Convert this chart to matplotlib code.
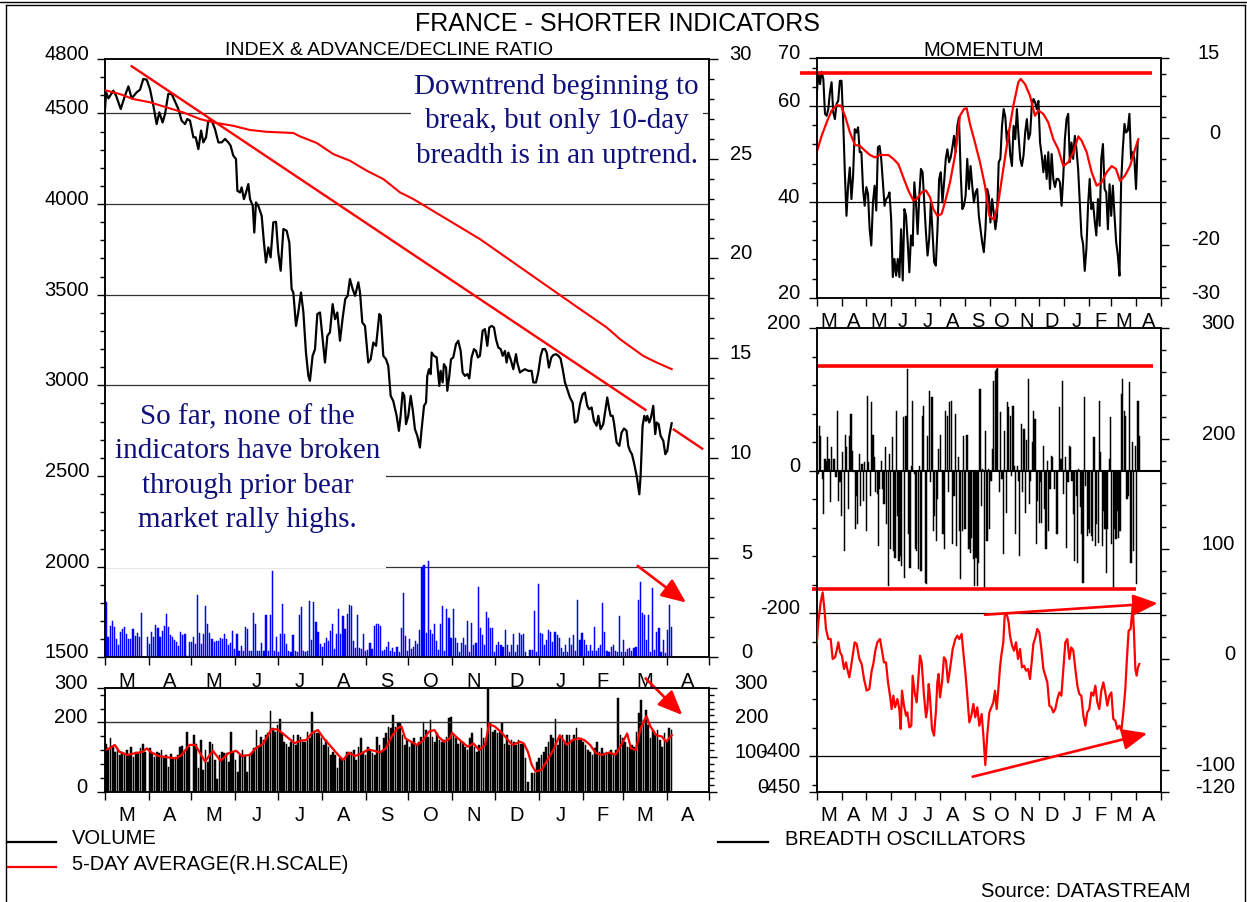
import numpy as np
import matplotlib.pyplot as plt
import matplotlib.transforms as mtransforms
from matplotlib.patches import Rectangle
from matplotlib.lines import Line2D

W, H = 1247, 903
plt.rcParams['font.family'] = ['Liberation Sans', 'DejaVu Sans']

# ── 시간축 (3월 ~ 다음해 4월, 일 단위) ─────────────────────
months = ['M', 'A', 'M', 'J', 'J', 'A', 'S', 'O', 'N', 'D', 'J', 'F', 'M', 'A']
month_len = [31, 30, 31, 30, 31, 31, 30, 31, 30, 31, 31, 28, 31, 30]
edges = np.concatenate([[0], np.cumsum(month_len)])
mids = (edges[:-1] + edges[1:]) / 2

# ── 지수 ────────────────────────────────────────────────
index_day = [0, 1, 2.6, 6.1, 8, 11.3, 14.3, 16.7, 19, 22.5,
             24.9, 27.2, 29.6, 31.9, 34.3, 36.6, 38.5, 40.8, 42.5, 44.8,
             47.2, 48.8, 51.9, 54.2, 56.6, 58.2, 60.1, 62.5, 64.1, 66,
             67.9, 69.5, 71.4, 73, 75.4, 77.7, 80.1, 82.4, 84.8, 87.1,
             88.7, 90.6, 92.5, 93.5, 95.3, 96.5, 98.1, 99.6, 101.2, 102.4,
             104.3, 105.4, 106.6, 108.2, 110.6, 112.2, 113.6, 115.3, 116.9, 118.8,
             120.7, 122.3, 124, 125.9, 128.2, 130.1, 131.7, 132.9, 134.8, 136.4,
             138.3, 140, 141.8, 143.5, 144.6, 146.5, 148.2, 149.8, 151.7, 153.6,
             155.2, 156.9, 158.7, 160.6, 162.3, 163.9, 165.8, 167.7, 169.5, 171.2,
             172.8, 174.7, 176.4, 178.7, 179.9, 181.5, 183.4, 185.7, 187.4, 189.3,
             191.2, 193.5, 194.5, 196.3, 198.2, 199.8, 201.5,
             203.3, 205.7, 207.3, 208.5, 209.9, 211.1, 212.3, 213.9, 215.6, 217.0,
             218.6, 220.3, 222.1, 223.3, 225.0, 226.4, 227.3, 228.5, 229.7, 230.4,
             232.0, 233.9, 235.8, 236.7, 238.1, 239.0, 240.5, 241.4, 242.8, 244.0,
             245.6, 247.5, 249.1, 250.8, 252.2, 253.8, 255.5, 256.9, 258.5, 260.2,
             261.6, 263.0, 264.4, 266.3, 267.9, 269.6, 271.0, 272.6, 274.3, 275.7,
             277.3, 279.0, 280.4, 282.0, 283.2, 284.4, 286.0, 287.9, 289.8, 290.7,
             292.6, 294.2, 296.1, 298.5, 300.8, 302.0, 303.9, 305.5, 307.2, 308.6,
             310.2, 311.4, 313.0, 314.7, 316.1, 318.0, 319.6, 321.2, 322.7, 324.3,
             325.9, 327.8, 329.7, 331.3, 333.0, 334.9, 336.8, 338.4, 340.0, 341.4,
             343.1, 344.7, 346.6, 347.8, 349.4, 351.3, 353.2, 354.1, 355.5, 356.5,
             357.9, 358.8, 360.7, 362.6, 364.2, 365.9, 367.7, 368.9, 370.1, 371.5,
             372.9, 374.8, 376.7, 377.6, 379.0, 380.2, 381.4, 382.3, 383.7, 384.9,
             386.5, 387.9, 388.9, 390.3, 391.7, 393.6, 395.0, 396.4, 397.8, 399.5]
index_val = [4496, 4616, 4583, 4625, 4598, 4524, 4598, 4649, 4583, 4616,
             4631, 4690, 4686, 4634, 4542, 4441, 4506, 4450, 4496, 4607,
             4607, 4579, 4524, 4460, 4441, 4469, 4460, 4368, 4368, 4303,
             4405, 4340, 4368, 4460, 4460, 4414, 4340, 4340, 4359, 4340,
             4322, 4267, 4248, 4073, 4064, 4092, 4027, 4064, 4110, 4027,
             3991, 3843, 4009, 3991, 3935, 3788, 3678, 3761, 3706, 3899,
             3902, 3733, 3632, 3862, 3853, 3788, 3531, 3512, 3328, 3402,
             3512, 3402, 3181, 3052, 3025, 3163, 3200, 3393, 3402, 3255,
             3126, 3273, 3292, 3448, 3365, 3402, 3246, 3374, 3476, 3494,
             3586, 3531, 3494, 3568, 3512, 3347, 3328, 3126, 3144, 3236,
             3218, 3393, 3384, 3163, 3144, 3108, 2942,
             2914, 2832, 2749, 2832, 2960, 2942, 2786, 2832, 2942, 2868,
             2758, 2721, 2657, 2758, 2887, 2905, 3052, 3089, 3062, 3181,
             3163, 3154, 2997, 3080, 3016, 3117, 3098, 2970, 3052, 3144,
             3154, 3227, 3246, 3190, 3071, 3052, 3062, 3038, 3154, 3200,
             3190, 3154, 3163, 3301, 3310, 3218, 3319, 3328, 3319, 3255,
             3209, 3200, 3163, 3190, 3126, 3181, 3144, 3089, 3172, 3126,
             3071, 3080, 3089, 3080, 3080, 3016, 3016, 3071, 3163, 3200,
             3200, 3181, 3098, 3154, 3167, 3172, 3163, 3148, 3089, 3016,
             2979, 2933, 2905, 2795, 2804, 2896, 2951, 2960, 2887, 2868,
             2878, 2804, 2777, 2832, 2758, 2786, 2887, 2933, 2868, 2832,
             2832, 2795, 2685, 2666, 2740, 2762, 2749, 2666, 2639, 2620,
             2574, 2501, 2399, 2501, 2777, 2832, 2804, 2832, 2795, 2822,
             2887, 2731, 2795, 2786, 2721, 2694, 2620, 2639, 2721, 2791]

# 하락 추세선 (지수 단위)
trend_day = [19, 381]
trend_val = [4760, 2865]
trend2_day = [401, 421]
trend2_val = [2756, 2651]

# 상승/하락 비율 (우측 눈금)
ad_day = [0, 10.8, 20.2, 31.9, 43.7, 55.4, 67.1, 76.5, 90.6, 102.4,
          114.1, 132.9, 137.6, 149.4, 161.1, 172.8, 184.6, 196.3, 208.1, 217.4,
          241.0, 264.4, 287.9, 311.4, 334.9, 353.7, 363.1, 379.5, 388.9, 399.5]
ad_val = [28.44, 28.24, 27.99, 27.83, 27.57, 27.32, 26.99, 26.82, 26.65, 26.44,
          26.35, 26.29, 26.12, 25.79, 25.23, 24.90, 24.40, 23.98, 23.31, 22.98,
          21.97, 20.97, 19.80, 18.63, 17.46, 16.54, 15.95, 15.11, 14.78, 14.45]

# 파란 막대 (우측 눈금)
blue_bars = [2.79, 1.0, 1.59, 1.84, 1.5, 0.92, 0.62, 1.25, 1.42, 1.5,
             1.17, 0.92, 0.92, 1.42, 1.09, 1.22, 1.0, 2.22, 0, 0,
             1.0, 0.67, 1.29, 1.0, 1.62, 1.46, 1.0, 1.34, 1.59, 2.17,
             1.5, 1.12, 1.0, 0.89, 0.75, 0.59, 1.25, 1.12, 1.15, 0.08,
             0.75, 0.75, 1.0, 0.67, 3.14, 1.22, 0.67, 1.17, 2.56, 1.67,
             1.22, 0.92, 0.75, 0.84, 0.84, 0.95, 0.92, 1.17, 0.92, 0.62,
             0.72, 1.34, 0.42, 1.17, 0.33, 0.59, 0.33, 1.5, 1.42, 0.33,
             0.33, 2.22, 1.67, 0.33, 0.33, 0.72, 0.33, 2.12, 0.33, 2.12,
             4.35, 0.33, 1.0, 0.28, 1.17, 2.68, 1.17, 0.67, 0.33, 0.28,
             1.12, 0.33, 0.28, 2.12, 2.51, 0.33, 0.28, 0.33, 2.84, 0.89,
             2.76, 1.76, 1.29, 0.67, 0.5, 0.72, 0.95, 0.84, 1.34, 1.67,
             0.42, 1.17, 2.43, 1.17, 2.09, 1.42, 2.17, 2.63, 2.59, 0.84,
             0.45, 2.12, 0.45, 0.42, 1.17, 0.33, 0.38, 0.72, 0.42, 1.59,
             1.67, 1.67, 1.59, 0.33, 0.38, 0.5, 0.75, 0.33, 0.45, 0.28,
             0.5, 0.28, 1.46, 3.23, 1.09, 0.33, 0.92, 0.42, 0.5, 0.8,
             0.67,
             1.37, 4.55, 4.63, 1.2, 4.83, 1.37, 1.17, 1.67, 0.84, 0.37,
             1.67, 2.58, 0.33, 2.41, 1.96, 0.95, 2.41, 0.95, 0.7, 0.28,
             0.7, 0.95, 0.62, 1.84, 0.28, 1.71, 0.62, 0.7, 3.55, 1.46,
             1.12, 0.62, 2.29, 1.96, 1.46, 1.46, 0.28, 0.62, 0.79, 0.62,
             0.54, 1.37, 0.62, 0.28, 0.62, 1.17, 0.28, 0.62, 1.2, 1.12,
             1.17, 0.28, 0, 0.37, 0.37, 2.34, 0.28, 3.68, 1.2, 1.17,
             0.62, 0.87, 1.37, 1.29, 0.79, 1.29, 1.12, 0.95, 0.45, 0.28,
             0.62, 0.28, 0.95, 0.62, 1.12, 0.33, 2.88, 0.87, 1.24, 0.87,
             0.62, 0.33, 0.62, 0.33, 1.54, 0.33, 0.45, 0.62, 2.74, 1.29,
             0.33, 0.28, 0.54, 0.62, 0.33, 0.28, 2.07, 0.28, 0.87, 0.28,
             0.4, 0.45, 0.33, 0.45, 0.54, 2.88, 3.8, 2.21, 2.12, 0.87,
             2.12, 0.28, 3.46, 0.37, 1.29, 1.46, 0.28, 0.87, 0.2, 1.37,
             2.63, 1.54]

# ── 거래량 ──────────────────────────────────────────────
volume = [139, 125, 154, 130, 115, 125, 106, 115, 111, 120, 106, 130, 101, 115, 111, 125, 139, 115, 0,
          125, 111, 101, 115, 111, 120, 96, 106, 72, 109, 96, 101, 106, 130, 132, 115, 173, 130, 0,
          163, 139, 67, 149, 63, 120, 87, 144, 139, 91, 38, 106, 115, 111, 111, 87, 173, 115, 91, 58,
          106, 120, 106, 58, 106, 111, 125, 178, 130, 159, 149, 163, 168, 234, 183, 173, 192,
          211, 168, 144, 139, 130, 144, 163, 135, 163, 159, 144, 144, 173, 154, 231, 173, 168, 168, 154,
          135, 149, 130, 106, 115, 106, 67, 96, 91, 96, 115, 111, 115, 120, 91, 130, 154, 115, 106,
          130, 120, 111, 106, 159, 135, 115, 154, 168, 187, 183, 221, 187, 197, 199, 163, 135, 149,
          130, 144, 154, 135, 144, 159, 202, 178, 159, 207, 159, 144, 168, 149, 144, 149, 159, 214, 216,
          163, 154, 139, 144, 144, 130, 120, 154, 168, 130, 115, 135, 183, 154, 154, 298, 197, 173,
          178, 168, 173, 197, 139, 163, 135, 149, 144, 135, 149, 139, 139, 96, 29, 0, 53, 53, 87,
          96, 106, 115, 130, 144, 163, 154, 209, 135, 154, 163, 144, 163, 163, 149, 163, 183, 149, 154, 144,
          135, 120, 115, 106, 125, 144, 115, 125, 111, 115, 111, 120, 111, 120, 269, 163, 154,
          144, 130, 130, 135, 130, 173, 226, 264, 207, 236, 192, 154, 178, 163, 178, 149, 130, 168, 144, 183, 178]

vol_avg_day = [0, 3.5, 7.1, 10.4, 15.9, 21.4, 26.8, 29.6, 32.3, 37.8,
               44.7, 50.1, 54.2, 59.7, 63.8, 70.7, 76.2, 81.6, 87.1, 92.6,
               96.7, 102.2, 106.3, 111.8, 117.3, 121.4, 125.5, 129.6, 133.7, 137.8,
               142.0, 146.1, 150.2, 154.3, 158.4, 163.9, 168.0, 172.1, 176.2, 180.3,
               185.8, 189.9, 194.0, 198.1, 202.2, 206.3, 209.1, 211.8, 215.9, 220.0,
               224.2, 228.3, 232.4, 235.1, 239.2, 243.3, 244.7, 247.5, 251.6, 255.7,
               259.8, 263.9, 268.0, 270.8, 274.9, 279.0, 283.1, 287.2, 292.7, 295.4,
               298.2, 300.9, 303.6, 307.8, 311.9, 316.0, 320.6, 325.6, 329.7, 333.8,
               337.9, 342.0, 346.1, 350.2, 355.7, 359.8, 364.0, 368.1, 370.8, 374.3,
               377.6, 381.7, 384.5, 388.6, 392.7, 395.4, 399.6]
vol_avg = [120, 125, 135, 115, 106, 111, 115, 125, 115, 103,
           99, 96, 106, 135, 135, 87, 118, 89, 111, 118,
           103, 106, 125, 139, 180, 180, 168, 154, 140, 147,
           149, 170, 178, 154, 135, 109, 91, 113, 103, 109,
           122, 118, 113, 125, 159, 183, 188, 154, 144, 135,
           147, 173, 178, 159, 144, 154, 170, 159, 144, 130,
           139, 120, 135, 195, 188, 173, 154, 135, 144, 139,
           115, 77, 58, 63, 91, 120, 163, 135, 149, 154,
           149, 135, 111, 106, 113, 106, 135, 168, 125, 120,
           183, 218, 188, 163, 159, 144, 163]

# ── 모멘텀 ──────────────────────────────────────────────
momentum = [62.2, 67.1, 64.6, 67.2, 65.7, 58.4, 58.0, 59.4, 62.9, 65.0,
            58.7, 57.3, 60.5, 61.1, 65.3, 65.3, 57.0, 46.2, 37.1, 43.4,
            47.2, 40.6, 45.5, 55.2, 54.5, 55.6, 50.4, 50.4, 42.7, 39.2,
            43.1, 41.7, 34.3, 30.9, 39.9, 43.4, 38.2, 51.4, 51.7, 49.0,
            44.1, 39.2, 40.6, 41.0, 42.0, 36.4, 24.3, 28.1, 24.6, 28.1,
            24.3, 34.3, 23.6, 38.5, 37.1, 31.6, 25.3, 33.0, 30.9, 44.1,
            39.9, 33.3, 41.3, 46.9, 46.2, 39.9, 33.7, 28.8, 32.3, 39.9,
            33.7, 27.4, 26.7, 34.3, 44.8, 46.2, 39.9, 44.1, 49.0, 51.0,
            48.3, 49.3, 51.4, 53.8, 50.4, 55.9, 57.7, 46.2, 38.5, 39.2,
            41.3, 49.0, 42.7, 47.5, 43.4, 39.9, 42.0, 42.7, 37.1, 34.3,
            31.6, 29.5, 34.3, 42.7, 41.3, 35.7, 40.6, 37.8, 34.3, 37.1,
            48.3, 49.0, 55.9, 59.4, 57.7, 52.4, 54.9, 49.7, 47.5, 55.9,
            53.1, 59.4, 53.8, 49.0, 47.5, 49.7, 54.5, 57.3, 53.1, 54.2,
            60.1, 61.5, 60.8, 59.4, 61.1, 52.4, 49.7, 46.2, 49.7, 44.8,
            50.4, 42.7, 50.0, 44.8, 43.1, 44.8, 44.8, 44.1, 39.2, 45.1,
            53.1, 57.3, 58.4, 48.3, 52.4, 49.0, 53.8, 51.0, 46.9, 39.9,
            33.0, 31.2, 25.6, 30.2, 39.2, 44.8, 38.5, 39.9, 36.1, 33.0,
            40.6, 35.0, 49.0, 52.1, 42.7, 42.0, 34.3, 43.7, 37.1, 43.4,
            37.1, 31.6, 28.8, 24.6, 44.1, 51.0, 56.3, 54.5, 54.9, 58.4,
            49.0, 50.4, 49.0, 42.7, 52.4]
mom_end_day = 397.5

mom_avg_day = [0, 6.1, 12.3, 18.5, 24.7, 30.1, 35.0, 41.2, 47.4, 53.6,
               59.8, 66.0, 72.2, 78.4, 88.7, 94.9, 101.1, 107.3, 113.5, 119.7,
               123.8, 130.0, 135.3, 140.3, 144.4, 149.4, 154.7, 158.8, 165.1, 171.3,
               177.4, 182.4, 185.7, 189.8, 196.0, 202.2, 208.4, 213.8, 219.5, 224.9,
               231.1, 237.3, 243.5, 249.7, 252.6, 258.0, 264.1, 270.3, 274.5, 280.6,
               286.8, 293.0, 299.2, 305.4, 311.6, 317.8, 324.0, 328.1, 334.3, 340.5,
               346.7, 352.9, 359.1, 365.3, 370.6, 375.6, 381.8, 388.0, 394.2, 398.3]
mom_avg = [50.4, 53.8, 56.6, 59.1, 60.2, 60.1, 58.0, 54.5, 51.9, 51.7,
           50.7, 49.8, 49.3, 49.8, 49.8, 49.0, 47.9, 45.1, 42.4, 40.3,
           40.6, 42.0, 42.4, 41.0, 38.5, 37.1, 37.5, 39.9, 44.1, 49.7,
           58.0, 59.4, 59.6, 56.3, 52.4, 48.3, 43.4, 37.1, 36.3, 39.9,
           46.9, 53.8, 60.1, 65.0, 65.7, 64.6, 62.2, 58.0, 59.1, 58.4,
           56.6, 53.1, 51.0, 47.5, 48.3, 50.4, 53.7, 52.8, 50.4, 46.2,
           43.4, 44.1, 46.2, 47.5, 46.9, 44.4, 45.5, 47.5, 51.0, 53.1]
mom_high = 66.9

# ── 시장 폭 오실레이터 ───────────────────────────────────
breadth = [108, -5, 63, 49, -12, -61, 16, 14, 47, 16,
           -44, 33, 16, 16, -9, 84, -42, -16, -63, 26,
           -112, 51, 33, -54, 49, 80, 28, -2, -82, -35,
           -75, 23, -49, 9, -42, 12, -84, 105, 12, -35,
           96, 51, 19, -30, -33, -105, -26, 14, -26, -47,
           33, -75, -162, 23, -110, 47, -112, -122, 84, -63,
           -126, -119, -133, 75, -150, 77, 143, -89, -136, 7,
           98, -5, -110, -112, -138, 7, -140, 77, 91, -157,
           -159, 49, 112, -16, 103, -84, -63, -98, -40, 30,
           51, 0, -89, -110, 84, 77, -30, 96, 98, -103,
           -35, 80, -105, 19, -84, -152, -84, 49, -82, 51,
           51, -110, -115, -94, -124, -162, -122, -162, -129, 115,
           -49, 2, -164, 56, -98, 2, -82, -14, 30, 126,
           140, 143, 145, -30, 82, -12, -117, 56, -59, 96,
           89, 77, -7, 91, 7, -89, 7, -14, -119, 66,
           -30, 59, -59, 44, 129, -47, -14, 40, 84, 73,
           -103, -42, -73, -16, -73, 35, -54, -110, 14, -84,
           -26, 21, 19, -26, 0, -89, 0, 89, 16, 126,
           -33, 19, -108, -16, 35, 33, -14, -61, -126, -35,
           -129, 2, -51, -89, -157, 103, -21, -91, -82, -87,
           -91, -98, 47, -105, -75, -101, 98, 26, -105, -56,
           -82, -143, -82, 16, 75, -103, -164, -82, -96, -56,
           -94, -84, 108, 129, 84, 77, -40, -35, 124, -129,
           40, -112, 35, -159, 98, 49]
breadth_top = 146.6
breadth_bottom = -166.2

osc_day = [0, 2.0, 4.9, 7.4, 9.9, 11.5, 14.4, 17.3, 19.8, 22.7,
           24.7, 26.8, 28.9, 31.3, 33.8, 36.3, 37.9, 40.4, 42.1, 44.5,
           47.0, 49.5, 52.8, 55.7, 58.6, 61.9, 65.2, 68.1, 70.1, 72.6,
           75.1, 78.4, 80.9, 83.3, 85.8, 88.3, 90.8, 92.8, 94.9, 97.0,
           99.9, 102.3, 104.0, 105.6, 108.1, 110.6, 112.2, 114.7, 117.2, 118.8,
           121.3, 123.8, 125.9, 127.9, 130.0, 132.9, 135.4, 137.0, 138.7, 140.3,
           142.8, 145.3, 147.7, 149.4, 151.0, 152.7, 155.2, 157.6, 160.1, 162.6,
           165.1, 168.4, 171.7, 174.2, 176.6, 179.5, 181.6, 184.1, 186.5, 189.0,
           191.5, 194.0, 196.4, 198.9, 201.4, 204.3, 206.4, 208.8, 211.3, 213.8,
           216.3, 218.7, 220.8, 222.9, 225.3, 227.0, 228.6, 231.1, 232.8, 235.3,
           237.7, 239.4, 241.9, 244.3, 246.8, 249.3, 251.8, 254.2, 256.7, 259.2,
           261.7, 264.1, 266.2, 268.3, 270.8, 273.2, 275.7, 278.2, 280.7, 283.1,
           285.6, 288.1, 290.6, 293.0, 295.5, 298.0, 300.5, 303.0, 305.4, 307.9,
           310.4, 312.9, 315.3, 317.8, 320.3, 322.8, 325.2, 327.7, 330.2, 332.7,
           335.1, 337.6, 340.1, 342.6, 345.1, 347.5, 350.0, 352.5, 355.0, 357.4,
           359.9, 362.4, 364.9, 367.3, 369.8, 372.3, 374.8, 377.3, 379.7, 382.2,
           383.9, 386.3, 388.8, 391.3, 392.9, 394.6, 396.2, 397.9, 399.5]
osc_val = [13.9, 33.5, 51.6, 60.7, 42.6, 27.5, 18.4, 18.4, 0.3, 1.8,
           7.8, 15.4, 6.3, 3.3, -8.8, -2.8, -8.8, -16.3, -8.8, 3.3,
           15.4, 13.9, 0.3, -4.3, -17.9, -28.4, -26.9, -10.3, -4.3, 7.8,
           15.4, 18.4, 7.8, -2.8, -2.8, -20.9, -33.0, -45.1, -33.0, -43.5,
           -36.0, -45.1, -63.2, -28.4, -42.0, -51.1, -48.1, -61.7, -60.2, -14.8,
           -30.0, -39.0, -17.9, 3.3, -2.8, -33.0, -52.6, -45.1, -22.4, -34.5,
           -63.2, -69.2, -46.6, -20.9, -13.3, -34.5, -20.9, 1.8, -1.2, -20.9,
           -8.8, 9.3, 18.4, 21.4, 18.4, 22.9, 6.3, -11.8, -33.0, -57.1,
           -51.1, -40.5, -52.6, -43.5, -60.2, -49.6, -69.2, -95.8, -67.7, -48.1,
           -43.5, -39.0, -28.4, -45.1, -23.9, -7.3, 3.3, 15.4, 39.5, 41.1,
           33.5, 21.4, 12.4, 7.8, 15.4, 0.3, 9.3, -7.3, -5.8, -10.3,
           -8.8, -17.9, -2.8, 13.9, 19.9, 27.5, 24.4, 9.3, -8.8, -14.8,
           -20.9, -42.0, -43.5, -48.1, -45.1, -36.0, -30.0, -33.0, -8.8, 15.4,
           18.4, 0.3, 10.8, 7.8, -8.8, -23.9, -31.4, -33.0, -51.1, -60.2,
           -48.1, -45.1, -30.0, -33.0, -23.9, -39.0, -45.1, -28.4, -20.9, -30.0,
           -42.0, -33.0, -30.0, -54.1, -55.6, -63.2, -60.2, -64.7, -48.1, -26.9,
           -2.8, 25.9, 27.5, 48.6, 24.4, -8.8, -14.8, -7.3, -4.3]

RED = '#ff0000'
NAVY = '#10107a'
FS = 14.5

fig = plt.figure(figsize=(W / 100, H / 100), dpi=100)


def rect(x0, y0, x1, y1):
    return [x0 / W, 1 - y1 / H, (x1 - x0) / W, (y1 - y0) / H]


def fx(x):
    return x / W


def fy(y):
    return 1 - y / H


def style(ax, ylim, major, minor, mlen=6, nlen=3.8):
    ax.set_xlim(0, 426)
    ax.set_ylim(*ylim)
    ax.set_yticks(major)
    ax.set_yticks(minor, minor=True)
    ax.set_xticks(edges)
    ax.tick_params(which='both', direction='out', width=1, color='black',
                   labelbottom=False, labelleft=False, labelright=False)
    ax.tick_params(axis='y', which='major', length=mlen)
    ax.tick_params(axis='y', which='minor', length=nlen)
    ax.tick_params(axis='x', which='major', length=6)
    for s in ax.spines.values():
        s.set_linewidth(1.1)


def ylab(ax, vals, xr):
    tr = mtransforms.blended_transform_factory(fig.transFigure, ax.transData)
    for v in vals:
        ax.text(fx(xr), v, str(v), transform=tr, ha='right', va='baseline', fontsize=FS)


def mlab(ax, ybase):
    tr = mtransforms.blended_transform_factory(ax.transData, fig.transFigure)
    for m, x in zip(months, mids):
        ax.text(x, fy(ybase), m, transform=tr, ha='center', va='baseline', fontsize=FS)


def arrow(ax, start, end):
    ax.annotate('', xy=end, xytext=start, annotation_clip=False,
                arrowprops=dict(arrowstyle='-|>,head_length=0.75,head_width=0.32',
                                color=RED, lw=1.9, mutation_scale=20,
                                shrinkA=0, shrinkB=0))


def bars(ax, x, h, color, frac):
    step = x[1] - x[0]
    ax.bar(x, h, width=step * frac, color=color, edgecolor=color,
           linewidth=0.35, zorder=2)


# ── 좌상단: 지수 & 상승/하락 비율 ─────────────────────────
ax_main = fig.add_axes(rect(104.7, 60, 709.3, 658.3))
ax_ad = ax_main.twinx()
style(ax_main, (1500, 4800), [1500, 2000, 2500, 3000, 3500, 4000, 4500, 4800],
      np.arange(1600, 4800, 100))
style(ax_ad, (0, 30), np.arange(0, 31, 5), np.arange(0, 31, 1), mlen=6.5, nlen=3.8)
for v in [2000, 2500, 3000, 3500, 4000, 4500]:
    ax_main.axhline(v, color='#333333', lw=0.9, zorder=1)

# 글상자 배경 (격자선 가림)
ax_main.add_patch(Rectangle((fx(105.6), fy(569)), fx(386) - fx(105.6), fy(392) - fy(569),
                            transform=fig.transFigure, facecolor='white',
                            edgecolor='none', zorder=1.5))
ax_main.add_patch(Rectangle((fx(411), fy(176)), fx(703) - fx(411), fy(63) - fy(176),
                            transform=fig.transFigure, facecolor='white',
                            edgecolor='none', zorder=1.5))

ax_main.plot(index_day, index_val, color='black', lw=1.6, zorder=3)
ax_main.plot(trend_day, trend_val, color=RED, lw=1.7, zorder=3)
ax_main.plot(trend2_day, trend2_val, color=RED, lw=1.7, zorder=3)
arrow(ax_main, (375.5, 2004), (409.6, 1802))

x_blue = np.linspace(0.9, 399.3, len(blue_bars))
bars(ax_ad, x_blue, blue_bars, '#0000ff', 0.55)
ax_ad.plot(ad_day, ad_val, color=RED, lw=1.5, zorder=3)

ylab(ax_main, [4800, 4500, 4000, 3500, 3000, 2500, 2000, 1500], 89)
ylab(ax_ad, [30, 25, 20, 15, 10, 5, 0], 752)
mlab(ax_main, 686.7)

serif = ['Liberation Serif', 'DejaVu Serif']
for i, line in enumerate(['Downtrend beginning to', 'break, but only 10-day',
                          'breadth is in an uptrend.']):
    fig.text(fx(556.6), fy(94 + i * 34.3), line, ha='center', va='baseline',
             fontsize=21, color=NAVY, family=serif)
for i, line in enumerate(['So far, none of the', 'indicators have broken',
                          'through prior bear', 'market rally highs.']):
    fig.text(fx(247.5), fy(424 + i * 34.4), line, ha='center', va='baseline',
             fontsize=21, color=NAVY, family=serif)

# ── 좌하단: 거래량 ──────────────────────────────────────
ax_vol = fig.add_axes(rect(104.7, 688.7, 709.3, 792.7))
ax_vol_r = ax_vol.twinx()
style(ax_vol, (0, 300), [0, 200, 300], [40, 80, 120, 160, 240, 280])
style(ax_vol_r, (0, 300), [0, 100, 200, 300], np.arange(0, 301, 20), mlen=6, nlen=3.8)
ax_vol.axhline(200, color='#333333', lw=1.0, zorder=3)
x_vol = np.linspace(0.8, 399.3, len(volume))
bars(ax_vol, x_vol, volume, 'black', 0.72)
ax_vol.plot(vol_avg_day, vol_avg, color=RED, lw=1.6, zorder=4)
arrow(ax_vol, (381.1, 327), (407.0, 221))
ylab(ax_vol, [300, 200, 0], 87.5)
ylab(ax_vol_r, [300, 200, 100, 0], 768)
mlab(ax_vol, 820.7)

# ── 우상단: 모멘텀 ──────────────────────────────────────
ax_mom = fig.add_axes(rect(816.7, 59.3, 1160.7, 298.7))
ax_mom_r = ax_mom.twinx()
style(ax_mom, (20, 70), [20, 40, 60, 70], np.arange(24, 70, 4))
style(ax_mom_r, (-30, 15), [-30, -20, 0, 15], np.arange(-28, 13, 4))
for v in [60, 40]:
    ax_mom.axhline(v, color='black', lw=0.9, zorder=1)
x_mom = np.linspace(0, mom_end_day, len(momentum))
ax_mom.plot(x_mom, momentum, color='black', lw=1.5, zorder=3)
ax_mom.plot(mom_avg_day, mom_avg, color=RED, lw=1.6, zorder=4)
ax_mom.plot([-20.7, 414.9], [mom_high, mom_high], color=RED, lw=2.6,
            clip_on=False, solid_capstyle='butt', zorder=5)
ylab(ax_mom, [70, 60, 40, 20], 800)
ylab(ax_mom_r, [15, 0, -20, -30], 1220)
mlab(ax_mom, 326.7)

# ── 우하단: 시장 폭 오실레이터 ───────────────────────────
ax_br = fig.add_axes(rect(816.7, 329.3, 1160.7, 792.7))
ax_br_r = ax_br.twinx()
style(ax_br, (-450, 200), [-450, -400, -200, 0, 200], np.arange(-440, 200, 40))
style(ax_br_r, (-120, 300), [-120, -100, 0, 100, 200, 300], np.arange(-120, 301, 20))
ax_br.axhline(0, color='black', lw=1.5, zorder=3)
for v in [-200, -400]:
    ax_br.axhline(v, color='black', lw=0.9, zorder=1)
x_br = np.linspace(0, 399.5, len(breadth))
bars(ax_br, x_br, breadth, 'black', 0.85)
ax_br.plot([1.2, 416.1], [breadth_top, breadth_top], color=RED, lw=2.6,
           clip_on=False, solid_capstyle='butt', zorder=5)
ax_br.plot([-5.4, 395.0], [breadth_bottom, breadth_bottom], color=RED, lw=2.6,
           clip_on=False, solid_capstyle='butt', zorder=5)
ax_br_r.plot(osc_day, osc_val, color=RED, lw=1.6, zorder=3)
arrow(ax_br_r, (208.4, 40.4), (422.3, 50.8))
arrow(ax_br_r, (193.2, -106.4), (409.4, -67.1))
ylab(ax_br, [200, 0, -200, -400, -450], 800)
ylab(ax_br_r, [300, 200, 100, 0, -100, -120], 1235)
mlab(ax_br, 820.7)

# ── 제목, 범례, 테두리 ──────────────────────────────────
fig.text(fx(617.5), fy(30.7), 'FRANCE - SHORTER INDICATORS', ha='center',
         va='baseline', fontsize=18)
fig.text(fx(389), fy(55), 'INDEX & ADVANCE/DECLINE RATIO', ha='center',
         va='baseline', fontsize=14)
fig.text(fx(983.3), fy(56), 'MOMENTUM', ha='center', va='baseline', fontsize=FS)

fig.add_artist(Line2D([fx(7), fx(56)], [fy(842.7), fy(842.7)], color='black', lw=1.6))
fig.add_artist(Line2D([fx(7), fx(56)], [fy(868.3), fy(868.3)], color=RED, lw=1.6))
fig.text(fx(71.7), fy(844), 'VOLUME', va='baseline', fontsize=FS)
fig.text(fx(71.7), fy(870), '5-DAY AVERAGE(R.H.SCALE)', va='baseline', fontsize=FS)
fig.add_artist(Line2D([fx(718), fx(768)], [fy(843.3), fy(843.3)], color='black', lw=1.6))
fig.text(fx(785), fy(845), 'BREADTH OSCILLATORS', va='baseline', fontsize=FS)
fig.text(fx(980.7), fy(897.5), 'Source: DATASTREAM', va='baseline', fontsize=FS)

for xs, ys in [([0, W], [3.3, 3.3]), ([6, 1245], [5.5, 5.5]),
               ([6, 6], [5.5, H]), ([1245, 1245], [5.5, H])]:
    fig.add_artist(Line2D([fx(v) for v in xs], [fy(v) for v in ys],
                          color='black', lw=1.0))

fig.savefig('out.png', dpi=100)
